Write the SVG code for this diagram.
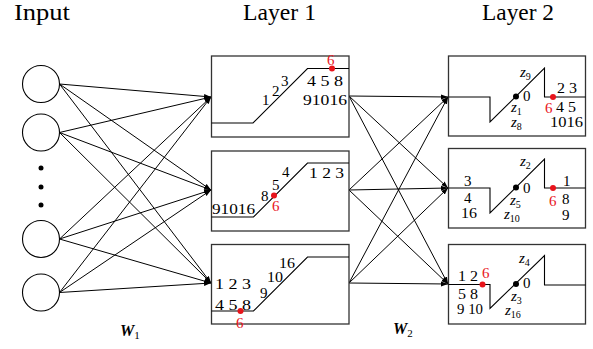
<svg xmlns="http://www.w3.org/2000/svg" width="593" height="349" viewBox="0 0 593 349">
<style>
.t{font-family:"Liberation Serif","DejaVu Serif","Times New Roman",serif;fill:#000}
.title{font-size:23px}
.n{font-size:15px}
.r{fill:#e8141b}
.z{font-style:italic}
.s{font-size:10px;font-style:normal}
.box{fill:#fff;stroke:#333;stroke-width:1.3}
.ln{fill:none;stroke:#000;stroke-width:1.1}
.c{fill:#fff;stroke:#000;stroke-width:1.1}
.con{stroke:#000;stroke-width:1;fill:none;marker-end:url(#ah)}
</style>
<defs>
<marker id="ah" markerUnits="userSpaceOnUse" markerWidth="8" markerHeight="6" refX="7" refY="3" orient="auto">
<path d="M0,0.5 L7,3 L0,5.5 z" fill="#000"/>
</marker>
</defs>
<rect width="593" height="349" fill="#fff"/>

<g id="titles">
<text class="t title" x="14" y="20" textLength="56" lengthAdjust="spacingAndGlyphs">Input</text>
<text class="t title" x="243" y="20" textLength="73" lengthAdjust="spacingAndGlyphs">Layer 1</text>
<text class="t title" x="482" y="20" textLength="72" lengthAdjust="spacingAndGlyphs">Layer 2</text>
</g>

<g id="input">
<circle class="c" cx="41" cy="84" r="18.5"/>
<circle class="c" cx="41" cy="132.5" r="18.5"/>
<circle cx="41" cy="168" r="2.5"/>
<circle cx="41" cy="187" r="2.5"/>
<circle cx="41" cy="205" r="2.5"/>
<circle class="c" cx="41" cy="239" r="18.5"/>
<circle class="c" cx="41" cy="292.5" r="18.5"/>
</g>

<g id="connectors">
<line class="con" x1="59.5" y1="84" x2="211" y2="97"/>
<line class="con" x1="59.5" y1="84" x2="211" y2="190"/>
<line class="con" x1="59.5" y1="84" x2="211" y2="283"/>
<line class="con" x1="59.5" y1="132.5" x2="211" y2="97"/>
<line class="con" x1="59.5" y1="132.5" x2="211" y2="190"/>
<line class="con" x1="59.5" y1="132.5" x2="211" y2="283"/>
<line class="con" x1="59.5" y1="239" x2="211" y2="97"/>
<line class="con" x1="59.5" y1="239" x2="211" y2="190"/>
<line class="con" x1="59.5" y1="239" x2="211" y2="283"/>
<line class="con" x1="59.5" y1="292.5" x2="211" y2="97"/>
<line class="con" x1="59.5" y1="292.5" x2="211" y2="190"/>
<line class="con" x1="59.5" y1="292.5" x2="211" y2="283"/>
<line class="con" x1="349" y1="96" x2="448" y2="97"/>
<line class="con" x1="349" y1="96" x2="448" y2="188"/>
<line class="con" x1="349" y1="96" x2="448" y2="284"/>
<line class="con" x1="349" y1="190" x2="448" y2="97"/>
<line class="con" x1="349" y1="190" x2="448" y2="188"/>
<line class="con" x1="349" y1="190" x2="448" y2="284"/>
<line class="con" x1="349" y1="283" x2="448" y2="97"/>
<line class="con" x1="349" y1="283" x2="448" y2="188"/>
<line class="con" x1="349" y1="283" x2="448" y2="284"/>
</g>

<g id="l1-box1">
<rect class="box" x="211.5" y="56" width="137.5" height="81"/>
<path class="ln" d="M211.5,123 H253 L307.5,68.5 H349"/>
<circle class="r" cx="332" cy="68.5" r="3"/>
<text class="t n r" x="327" y="65">6</text>
<text class="t n" x="262" y="105">1</text>
<text class="t n" x="272" y="96">2</text>
<text class="t n" x="281" y="86">3</text>
<text class="t n" x="307" y="86" textLength="36" lengthAdjust="spacingAndGlyphs">4 5 8</text>
<text class="t n" x="303" y="105" textLength="44" lengthAdjust="spacingAndGlyphs">91016</text>
</g>

<g id="l1-box2">
<rect class="box" x="211.5" y="151" width="137.5" height="80"/>
<path class="ln" d="M211.5,217 H253.5 L307.5,163 H349"/>
<circle class="r" cx="274" cy="195.5" r="3"/>
<text class="t n" x="282" y="177">4</text>
<text class="t n" x="272" y="190">5</text>
<text class="t n" x="261" y="201">8</text>
<text class="t n r" x="272" y="211">6</text>
<text class="t n" x="309" y="178" textLength="35" lengthAdjust="spacingAndGlyphs">1 2 3</text>
<text class="t n" x="212" y="214" textLength="43" lengthAdjust="spacingAndGlyphs">91016</text>
</g>

<g id="l1-box3">
<rect class="box" x="211.5" y="244.5" width="137.5" height="79.5"/>
<path class="ln" d="M211.5,311 H253.5 L307.5,257 H349"/>
<circle class="r" cx="240.5" cy="311" r="3"/>
<text class="t n" x="279" y="268" textLength="16" lengthAdjust="spacingAndGlyphs">16</text>
<text class="t n" x="267" y="282" textLength="16" lengthAdjust="spacingAndGlyphs">10</text>
<text class="t n" x="260" y="298">9</text>
<text class="t n" x="215" y="289" textLength="36" lengthAdjust="spacingAndGlyphs">1 2 3</text>
<text class="t n" x="215" y="310" textLength="36" lengthAdjust="spacingAndGlyphs">4 5 8</text>
<text class="t n r" x="236" y="328">6</text>
</g>

<g id="l2-box1">
<rect class="box" x="448.5" y="56" width="137" height="80"/>
<path class="ln" d="M448.5,97 H490 V122 L544.5,68 V97 H585.5"/>
<circle cx="516" cy="96.5" r="3"/>
<circle class="r" cx="553" cy="97" r="3"/>
<text class="t n z" x="520" y="77">z<tspan class="s" dy="3">9</tspan></text>
<text class="t n" x="523" y="101">0</text>
<text class="t n z" x="511" y="112">z<tspan class="s" dy="3">1</tspan></text>
<text class="t n z" x="511" y="127">z<tspan class="s" dy="3">8</tspan></text>
<text class="t n" x="557" y="93" textLength="20" lengthAdjust="spacingAndGlyphs">2 3</text>
<text class="t n r" x="545" y="113">6</text>
<text class="t n" x="556" y="112" textLength="20" lengthAdjust="spacingAndGlyphs">4 5</text>
<text class="t n" x="550" y="127" textLength="33" lengthAdjust="spacingAndGlyphs">1016</text>
</g>

<g id="l2-box2">
<rect class="box" x="448.5" y="148.5" width="137" height="79.5"/>
<path class="ln" d="M448.5,188 H490 V213 L544.5,159 V188 H585.5"/>
<circle cx="516" cy="187.5" r="3"/>
<circle class="r" cx="553" cy="188" r="3"/>
<text class="t n" x="464" y="186">3</text>
<text class="t n" x="464" y="203">4</text>
<text class="t n" x="461" y="218" textLength="16" lengthAdjust="spacingAndGlyphs">16</text>
<text class="t n z" x="520" y="166">z<tspan class="s" dy="3">2</tspan></text>
<text class="t n" x="523" y="193">0</text>
<text class="t n z" x="510" y="205">z<tspan class="s" dy="3">5</tspan></text>
<text class="t n z" x="504" y="219">z<tspan class="s" dy="3">10</tspan></text>
<text class="t n" x="563" y="186">1</text>
<text class="t n r" x="549" y="206">6</text>
<text class="t n" x="562" y="204">8</text>
<text class="t n" x="562" y="220">9</text>
</g>

<g id="l2-box3">
<rect class="box" x="448.5" y="244.5" width="137" height="79.5"/>
<path class="ln" d="M448.5,284.5 H490 V308.5 L544.5,255.5 V285 H585.5"/>
<circle cx="516" cy="284" r="3"/>
<circle class="r" cx="482.5" cy="284.5" r="3"/>
<text class="t n" x="458" y="281" textLength="20" lengthAdjust="spacingAndGlyphs">1 2</text>
<text class="t n r" x="482" y="278">6</text>
<text class="t n" x="458" y="299" textLength="20" lengthAdjust="spacingAndGlyphs">5 8</text>
<text class="t n" x="457" y="314" textLength="26" lengthAdjust="spacingAndGlyphs">9 10</text>
<text class="t n z" x="519" y="263">z<tspan class="s" dy="3">4</tspan></text>
<text class="t n" x="523" y="288">0</text>
<text class="t n z" x="511" y="301">z<tspan class="s" dy="3">3</tspan></text>
<text class="t n z" x="505" y="315">z<tspan class="s" dy="3">16</tspan></text>
</g>

<g id="weights">
<text class="t" x="120" y="336" font-size="16" font-weight="bold" font-style="italic">W<tspan font-size="11" font-weight="normal" font-style="normal" dy="3">1</tspan></text>
<text class="t" x="393" y="334" font-size="16" font-weight="bold" font-style="italic">W<tspan font-size="11" font-weight="normal" font-style="normal" dy="3">2</tspan></text>
</g>
</svg>
